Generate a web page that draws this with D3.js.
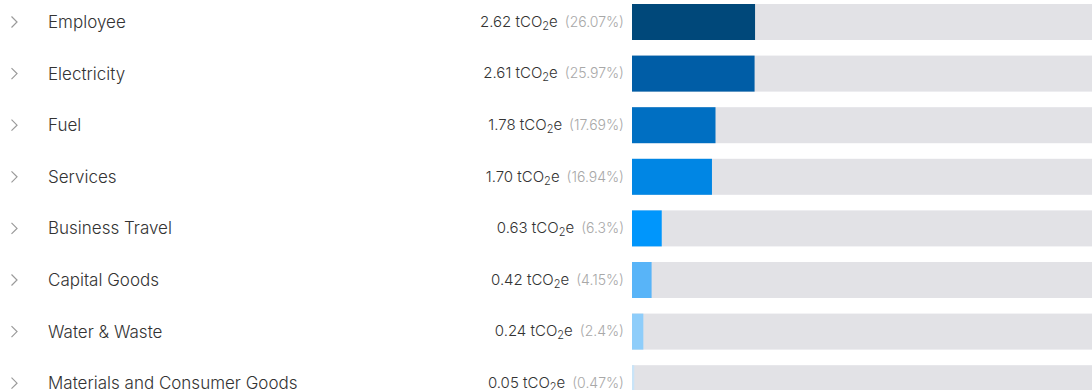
<!DOCTYPE html>
<html><head><meta charset="utf-8">
<script src="https://cdn.jsdelivr.net/npm/d3@7"></script>
<style>html,body{margin:0;padding:0;background:#fff;overflow:hidden}</style>
</head><body>
<svg id="chart" width="1092" height="390"></svg>
<script>
const categories = ["Employee","Electricity","Fuel","Services","Business Travel","Capital Goods","Water & Waste","Materials and Consumer Goods"];
const values = [2.62, 2.61, 1.78, 1.70, 0.63, 0.42, 0.24, 0.05];
const valueLabels = ["2.62","2.61","1.78","1.70","0.63","0.42","0.24","0.05"];
const percents = [26.07, 25.97, 17.69, 16.94, 6.3, 4.15, 2.4, 0.47];
const colors = ["#00487a","#005da6","#006fc2","#0086e4","#0096fc","#58b4f8","#8ecdfa","#c9e4f8"];

const svg = d3.select("#chart");
const font = "Inter, 'Noto Sans', sans-serif";

const yS = d3.scalePoint().domain(categories).range([4, 4 + 51.6 * 7]);
const barH = 36;
const x = d3.scaleLinear().domain([0, 100]).range([632, 1104]);

const rows = svg.selectAll("g.row").data(categories).join("g").attr("class","row")
  .attr("transform", d => `translate(0,${yS(d)})`);

rows.append("rect").attr("x", x(0)).attr("y", 0).attr("width", x(100) - x(0)).attr("height", barH).attr("fill", "#e2e2e6");
rows.append("rect").attr("x", x(0)).attr("y", 0)
  .attr("width", (d,i) => Math.max(1.5, x(percents[i]) - x(0))).attr("height", barH)
  .attr("fill", (d,i) => colors[i]);

rows.append("path").attr("d", "M11.5,12.5 L17,18 L11.5,23.5").attr("fill","none")
  .attr("stroke","#9a9a9a").attr("stroke-width",1.2);

rows.append("text").attr("x", 48).attr("y", 18).attr("dy","0.35em")
  .attr("font-family", font).attr("font-size", 17).attr("font-weight", 300).attr("fill", "#333")
  .text(d => d);

const vt = rows.append("text").attr("x", 624).attr("y", 18).attr("dy","0.35em")
  .attr("text-anchor","end").attr("font-family", font).attr("font-size", 14).attr("font-weight", 300).attr("fill","#333");
vt.append("tspan").attr("font-size", 15).text((d,i) => valueLabels[i] + " tCO");
vt.append("tspan").attr("font-size", 11).attr("dy", 3).text("2");
vt.append("tspan").attr("font-size", 15).attr("dy", -3).text("e");
vt.append("tspan").attr("fill","#a8a8a8").attr("dx", 7).text((d,i) => "(" + percents[i] + "%)");
</script>
</body></html>
